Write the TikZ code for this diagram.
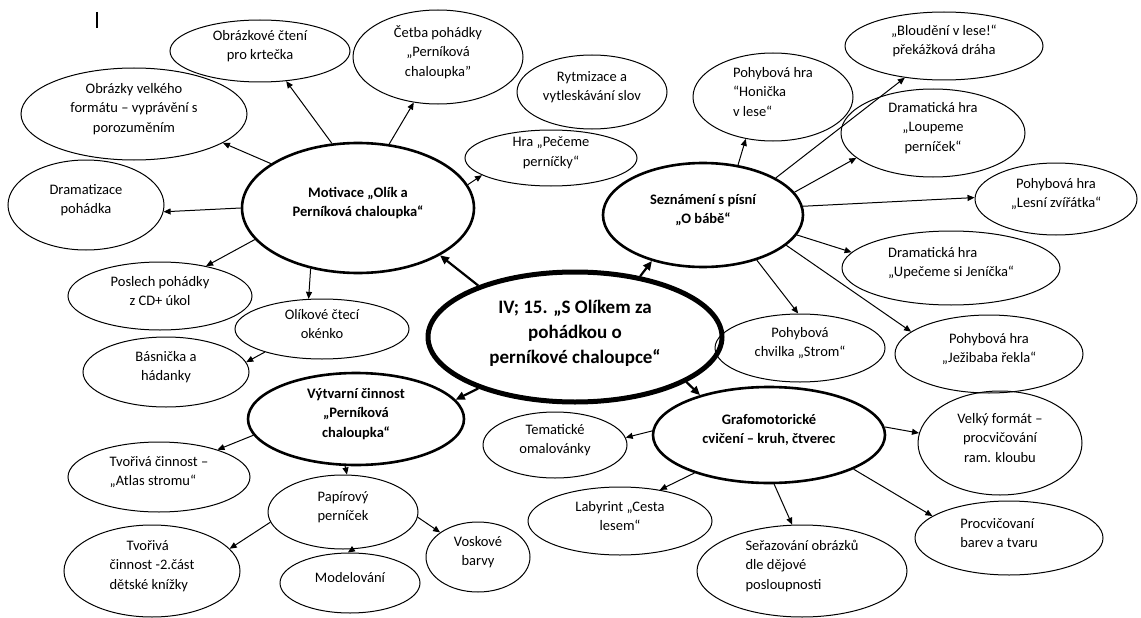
\documentclass[tikz,border=0pt]{standalone}
\usepackage{fontspec}
\setmainfont{Carlito}
\usetikzlibrary{shapes.geometric,arrows.meta}
\begin{document}
\begin{tikzpicture}[x=1pt,y=-1pt,
  leaf/.style={ellipse, draw, line width=1pt, inner sep=0pt},
  hub/.style={leaf, line width=2.6pt},
  core/.style={leaf, line width=5pt},
  tl/.style={inner sep=0pt, yshift=5pt, align=center, font=\fontsize{14.5}{19.5}\selectfont},
  tll/.style={tl, align=left},
  hl/.style={tl, font=\bfseries\fontsize{14.5}{19.5}\selectfont},
  cl/.style={tl, yshift=-1pt, font=\bfseries\fontsize{19}{25}\selectfont},
  arr/.style={-{Triangle[length=7pt,width=6pt]}, line width=1pt},
  carr/.style={-{Triangle[length=9pt,width=8pt]}, line width=2.2pt}]
\useasboundingbox (0,0) rectangle (1141,618);
\draw[line width=1.3pt] (97,12) -- (97,28);
% nodes
\node[core, minimum width=294pt, minimum height=130pt, label={[cl]center:{IV; 15. „S Olíkem za\\pohádkou o\\perníkové chaloupce“}}] (cen) at (575,337) {};
\node[hub, minimum width=232pt, minimum height=130pt, label={[hl]center:{Motivace „Olík a\\Perníková chaloupka“}}] (mot) at (358,208) {};
\node[hub, minimum width=200pt, minimum height=104pt, label={[hl]center:{Seznámení s písní\\„O bábě“}}] (sez) at (703,215) {};
\node[hub, minimum width=216pt, minimum height=92pt, label={[hl]center:{Výtvarní činnost\\„Perníková\\chaloupka“}}] (vyt) at (356,419) {};
\node[hub, minimum width=232pt, minimum height=96pt, label={[hl]center:{Grafomotorické\\cvičení – kruh, čtverec}}] (gra) at (769,435) {};
\node[leaf, minimum width=180pt, minimum height=62pt, label={[tl]center:{Obrázkové čtení\\pro krtečka}}] (oc) at (260,51) {};
\node[leaf, minimum width=170pt, minimum height=94pt, label={[tl]center:{Četba pohádky\\„Perníková\\chaloupka"}}] (cet) at (438,57) {};
\node[leaf, minimum width=150pt, minimum height=74pt, label={[tl]center:{Rytmizace a\\vytleskávání slov}}] (ryt) at (592,92) {};
\node[leaf, minimum width=160pt, minimum height=88pt, label={[tll]center:{Pohybová hra\\“Honička\\v lese“}}] (hon) at (773,97) {};
\node[leaf, minimum width=198pt, minimum height=68pt, label={[tl]center:{„Bloudění v lese!“\\překážková dráha}}] (blo) at (944,46) {};
\node[leaf, minimum width=184pt, minimum height=88pt, label={[tl]center:{Dramatická hra\\„Loupeme\\perníček“}}] (lou) at (933,133) {};
\node[leaf, minimum width=162pt, minimum height=72pt, label={[tl]center:{Pohybová hra\\„Lesní zvířátka“}}] (les) at (1056,199) {};
\node[leaf, minimum width=218pt, minimum height=74pt, label={[tll]center:{Dramatická hra\\„Upečeme si Jeníčka“}}] (upe) at (951,268) {};
\node[leaf, minimum width=188pt, minimum height=78pt, label={[tl]center:{Pohybová hra\\„Ježibaba řekla“}}] (jez) at (989,354) {};
\node[leaf, minimum width=170pt, minimum height=68pt, label={[tl]center:{Pohybová\\chvilka „Strom“}}] (str) at (800,348) {};
\node[leaf, minimum width=172pt, minimum height=56pt, label={[tl]center:{Hra „Pečeme\\perníčky“}}] (pec) at (551,158) {};
\node[leaf, minimum width=226pt, minimum height=92pt, label={[tl]center:{Obrázky velkého\\formátu – vyprávění s\\porozuměním}}] (ovf) at (134,114) {};
\node[leaf, minimum width=156pt, minimum height=90pt, label={[tl]center:{Dramatizace\\pohádka}}] (dra) at (86,205) {};
\node[leaf, minimum width=184pt, minimum height=68pt, label={[tl]center:{Poslech pohádky\\z CD+ úkol}}] (pos) at (160,296) {};
\node[leaf, minimum width=174pt, minimum height=60pt, label={[tl]center:{Olíkové čtecí\\okénko}}] (olc) at (322,329) {};
\node[leaf, minimum width=166pt, minimum height=70pt, label={[tl]center:{Básnička a\\hádanky}}] (bas) at (166,372) {};
\node[leaf, minimum width=182pt, minimum height=70pt, label={[tll]center:{Tvořivá činnost –\\„Atlas stromu“}}] (atl) at (159,477) {};
\node[leaf, minimum width=150pt, minimum height=74pt, label={[tl]center:{Papírový\\perníček}}] (pap) at (343,512) {};
\node[leaf, minimum width=176pt, minimum height=92pt, label={[tll]center:{\hspace*{17pt}Tvořivá\\činnost -2.část\\dětské knížky}}] (tv2) at (152,571) {};
\node[leaf, minimum width=140pt, minimum height=60pt, label={[tl]center:{Modelování}}] (mod) at (350,583) {};
\node[leaf, minimum width=104pt, minimum height=70pt, label={[tl]center:{Voskové\\barvy}}] (vos) at (478,557) {};
\node[leaf, minimum width=144pt, minimum height=66pt, label={[tl]center:{Tematické\\omalovánky}}] (tem) at (555,445) {};
\node[leaf, minimum width=184pt, minimum height=68pt, label={[tl]center:{Labyrint „Cesta\\lesem“}}] (lab) at (620,521) {};
\node[leaf, minimum width=210pt, minimum height=92pt, label={[tll]center:{Seřazování obrázků\\dle dějové\\posloupnosti}}] (ser) at (802,571) {};
\node[leaf, minimum width=164pt, minimum height=104pt, label={[tl]center:{Velký formát –\\procvičování\\ram. kloubu}}] (vel) at (1000,443) {};
\node[leaf, minimum width=188pt, minimum height=74pt, label={[tll, xshift=-10pt]center:{Procvičovaní\\barev a tvaru}}] (pro) at (1009,538) {};
% center arrows
\draw[carr] (cen.152) -- (mot.-30);
\draw[carr] (cen.43) -- (sez.-138);
\draw[carr] (cen.-152) -- (vyt.11);
\draw[carr] (cen.-22) -- (gra.150);
% motivace
\draw[arr] (mot.112) -- (oc.-49);
\draw[arr] (mot.153) -- (ovf.-18);
\draw[arr] (mot.180) -- (dra.-5);
\draw[arr] (mot.-163) -- (pos.33);
\draw[arr] (mot.-128) -- (olc.114);
\draw[arr] (mot.64) -- (cet.-118);
\draw[arr] (mot.12) -- (pec.-166);
\draw[arr] (olc.-158) -- (bas.7);
% seznameni
\draw[arr] (sez.55) -- (hon.-123);
\draw[arr] (sez.27) -- (blo.-141);
\draw[arr] (sez.14) -- (lou.-162);
\draw[arr] (sez.5) -- (les.179);
\draw[arr] (sez.-12) -- (upe.171);
\draw[arr] (sez.-20) -- (jez.164);
\draw[arr] (sez.-40) -- (str.93);
% vytvarni
\draw[arr] (vyt.-171) -- (atl.25);
\draw[arr] (vyt.-103) -- (pap.84);
\draw[arr] (pap.-172) -- (tv2.16);
\draw[arr] (pap.-75) -- (mod.94);
\draw[arr] (pap.-4) -- (vos.147);
% grafomotoricke
\draw[arr] (gra.178) -- (tem.6);
\draw[arr] (gra.-153) -- (lab.38);
\draw[arr] (gra.-84) -- (ser.102);
\draw[arr] (gra.4) -- (vel.173);
\draw[arr] (gra.-22) -- (pro.164);
\end{tikzpicture}
\end{document}
